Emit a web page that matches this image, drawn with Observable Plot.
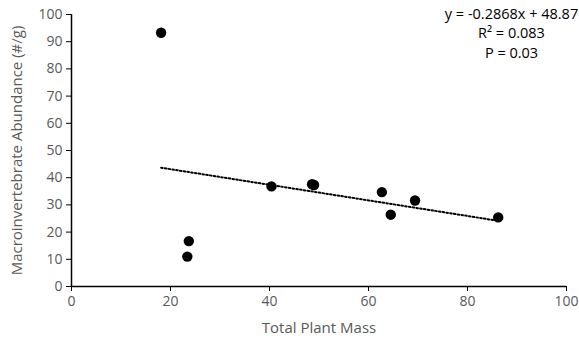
<!DOCTYPE html>
<html>
<head>
<meta charset="utf-8">
<script src="https://cdn.jsdelivr.net/npm/d3@7"></script>
<script src="https://cdn.jsdelivr.net/npm/@observablehq/plot@0.6"></script>
<style>
  html, body { margin: 0; padding: 0; background: #fff; }
  #chart svg { display: block; }
</style>
</head>
<body>
<div id="chart"></div>
<script>
// Total plant mass vs. macroinvertebrate abundance, one value per sample
const plantMass = [18.1, 23.4, 23.7, 40.4, 48.6, 49.0, 62.7, 64.5, 69.4, 86.2];
const abundance = [93.3, 11.0, 16.7, 36.8, 37.6, 37.3, 34.7, 26.4, 31.6, 25.4];

// Linear fit as reported
const slope = -0.2868;
const intercept = 48.87;
const rSquared = "0.083";
const pValue = "0.03";

const xTicks = [0, 20, 40, 60, 80, 100];
const yTicks = [0, 10, 20, 30, 40, 50, 60, 70, 80, 90, 100];
const xTitle = "Total Plant Mass";
const yTitle = "Macroinvertebrate Abundance (#/g)";

const points = plantMass.map((x, i) => ({x, y: abundance[i]}));
const xMin = d3.min(plantMass), xMax = d3.max(plantMass);
const fit = [xMin, xMax].map(x => ({x, y: slope * x + intercept}));
const fitLabel = [
  `y = ${slope}x + ${intercept}`,
  `R\u00B2 = ${rSquared}`,
  `P = ${pValue}`
].join("\n");

const font = "'Open Sans', sans-serif";
const grey = "#595959";

const chart = Plot.plot({
  width: 579,
  height: 347,
  marginLeft: 71,
  marginRight: 13,
  marginTop: 14,
  marginBottom: 61,
  style: {fontFamily: font, fontSize: "14px", background: "#fff"},
  x: {domain: [0, 100], ticks: xTicks},
  y: {domain: [0, 100], ticks: yTicks},
  marks: [
    Plot.axisX({ticks: xTicks, tickSize: 5, tickPadding: 5, stroke: "black", fill: grey, label: null, fontSize: 14}),
    Plot.axisY({ticks: yTicks, tickSize: 5, tickPadding: 4, stroke: "black", fill: grey, label: null, fontSize: 14}),
    Plot.ruleX([0], {stroke: "black", strokeWidth: 1.5}),
    Plot.ruleY([0], {stroke: "black", strokeWidth: 1.5}),
    Plot.line(fit, {x: "x", y: "y", stroke: "black", strokeWidth: 2, strokeDasharray: "1.6,2.2"}),
    Plot.dot(points, {x: "x", y: "y", r: 5.2, fill: "black", stroke: "none"}),
    Plot.text([fitLabel], {
      frameAnchor: "top-right", dx: -55, dy: -9, lineAnchor: "top",
      textAnchor: "middle", lineHeight: 1.33, fill: "black", fontSize: 14.5
    }),
    Plot.text([xTitle], {frameAnchor: "bottom", dy: 46, fill: grey, fontSize: 15}),
    Plot.text([yTitle], {frameAnchor: "left", dx: -54, rotate: -90, textAnchor: "middle", fill: grey, fontSize: 15})
  ]
});

document.getElementById("chart").appendChild(chart);
</script>
</body>
</html>
